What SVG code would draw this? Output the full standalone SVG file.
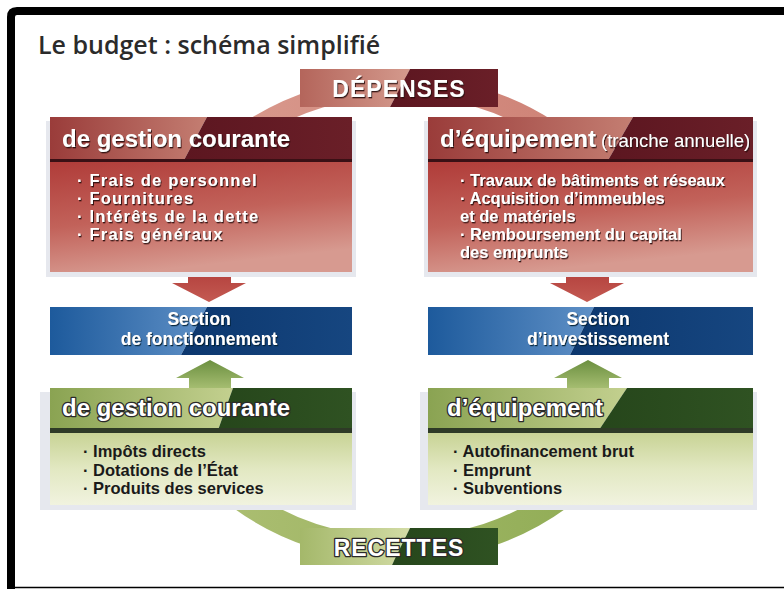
<svg xmlns="http://www.w3.org/2000/svg" width="784" height="589" viewBox="0 0 784 589">
<defs>
<linearGradient id="redLight" x1="0" y1="0" x2="1" y2="0"><stop offset="0" stop-color="#9a3c3a"/><stop offset="1" stop-color="#c47e72"/></linearGradient>
<linearGradient id="redDark" x1="0" y1="0" x2="1" y2="0"><stop offset="0" stop-color="#5c1620"/><stop offset="1" stop-color="#6a1f28"/></linearGradient>
<linearGradient id="redBody" x1="0" y1="0" x2="0.3" y2="1"><stop offset="0" stop-color="#b03c39"/><stop offset="0.55" stop-color="#c2625a"/><stop offset="1" stop-color="#d79a90"/></linearGradient>
<linearGradient id="depLight" x1="0" y1="0" x2="1" y2="0"><stop offset="0" stop-color="#b4655b"/><stop offset="1" stop-color="#d49a8d"/></linearGradient>
<linearGradient id="blueLight" x1="0" y1="0" x2="1" y2="0"><stop offset="0" stop-color="#1d5a9c"/><stop offset="1" stop-color="#5f90c6"/></linearGradient>
<linearGradient id="blueDark" x1="0" y1="0" x2="1" y2="0"><stop offset="0" stop-color="#0c376e"/><stop offset="1" stop-color="#164680"/></linearGradient>
<linearGradient id="greenLight" x1="0" y1="0" x2="1" y2="0"><stop offset="0" stop-color="#8aa352"/><stop offset="1" stop-color="#c3d08f"/></linearGradient>
<linearGradient id="greenDark" x1="0" y1="0" x2="1" y2="0"><stop offset="0" stop-color="#26461b"/><stop offset="1" stop-color="#2f5222"/></linearGradient>
<linearGradient id="greenBody" x1="0" y1="0" x2="0" y2="1"><stop offset="0" stop-color="#c8d395"/><stop offset="0.5" stop-color="#e2e8c2"/><stop offset="1" stop-color="#f1f3df"/></linearGradient>
<linearGradient id="recLight" x1="0" y1="0" x2="1" y2="0"><stop offset="0" stop-color="#a4b86a"/><stop offset="1" stop-color="#d3dca6"/></linearGradient>
<linearGradient id="arrowRed" x1="0" y1="0" x2="0" y2="1"><stop offset="0" stop-color="#b3403c"/><stop offset="1" stop-color="#c45a52"/></linearGradient>
<linearGradient id="arrowGreen" x1="0" y1="0" x2="0" y2="1"><stop offset="0" stop-color="#6b8f40"/><stop offset="1" stop-color="#a9c074"/></linearGradient>
<linearGradient id="arcPink" x1="0" y1="0" x2="1" y2="0"><stop offset="0" stop-color="#d8978b"/><stop offset="1" stop-color="#cf8478"/></linearGradient>
<linearGradient id="arcGreen" x1="0" y1="0" x2="1" y2="0"><stop offset="0" stop-color="#aabd70"/><stop offset="1" stop-color="#93ae58"/></linearGradient>
<filter id="sh" x="-5%" y="-30%" width="110%" height="160%"><feDropShadow dx="1" dy="1.3" stdDeviation="0.5" flood-color="#2a0808" flood-opacity="0.9"/></filter>
<filter id="shb" x="-5%" y="-30%" width="110%" height="160%"><feDropShadow dx="1" dy="1.2" stdDeviation="0.5" flood-color="#061a33" flood-opacity="0.9"/></filter>
</defs>
<style>
.title{font-family:"Open Sans","Liberation Sans",sans-serif;font-weight:600;font-size:25px;fill:#2b2b2b}
.big{font-family:"Liberation Sans",Arial,sans-serif;font-weight:700;font-size:23px;fill:#fff;letter-spacing:1px}
.hd{font-family:"Liberation Sans",Arial,sans-serif;font-weight:700;font-size:24px;fill:#fff}
.hdn{font-family:"Liberation Sans",Arial,sans-serif;font-weight:400;font-size:18.5px;fill:#fff}
.bw{font-family:"Liberation Sans",Arial,sans-serif;font-weight:700;font-size:16.5px;fill:#fff}
.bwl{font-size:16.5px;letter-spacing:1.2px}
.bk{font-family:"Liberation Sans",Arial,sans-serif;font-weight:700;font-size:16.5px;fill:#1a1a1a}
.sec{font-family:"Liberation Sans",Arial,sans-serif;font-weight:700;font-size:17.5px;fill:#fff}
.outl{stroke:#2a2a2a;stroke-width:2.6px;paint-order:stroke;stroke-linejoin:round}
.shadow{fill:#e6e8ee}
.hline{fill:#3a1015}
.gline{fill:#2e3a26}
</style>
<rect width="784" height="589" fill="#ffffff"/>
<path d="M11 589 V17 Q11 11 17 11 H790" fill="none" stroke="#000" stroke-width="8"/>
<line x1="15" y1="587.5" x2="784" y2="587.5" stroke="#000" stroke-width="1.5"/>
<g id="title"><text class="title" x="38" y="54">Le budget : schéma simplifié</text></g>
<g id="connectors">
<path d="M251 130 A255 232 0 0 1 549 130" fill="none" stroke="url(#arcPink)" stroke-width="20"/>
<path d="M240 498 A255 232 0 0 0 560 498" fill="none" stroke="url(#arcGreen)" stroke-width="24"/>
<polygon points="188,270 231,270 231,283 246,283 209,302 172,283 188,283" fill="url(#arrowRed)"/>
<polygon points="566,270 609,270 609,283 624,283 587,302 550,283 566,283" fill="url(#arrowRed)"/>
<polygon points="189,390 231,390 231,378 244,378 210,360 176,378 189,378" fill="url(#arrowGreen)"/>
<polygon points="567,390 609,390 609,378 622,378 588,360 554,378 567,378" fill="url(#arrowGreen)"/>
</g>
<g id="depenses">
<polygon points="300,69 410,69 390,107 300,107" fill="url(#depLight)"/>
<polygon points="410,69 498,69 498,107 390,107" fill="url(#redDark)"/>
<text class="big" x="399" y="97" text-anchor="middle" filter="url(#sh)">DÉPENSES</text>
</g>
<g id="dep-gestion">
<rect class="shadow" x="46" y="121" width="310" height="156"/>
<rect x="50" y="162" width="302" height="110" fill="url(#redBody)"/>
<polygon points="50,117 207,117 183,162 50,162" fill="url(#redLight)"/>
<polygon points="207,117 352,117 352,162 183,162" fill="url(#redDark)"/>
<rect class="hline" x="50" y="159" width="302" height="3"/>
<text class="hd" x="62" y="147" filter="url(#sh)">de gestion courante</text>
<g filter="url(#sh)">
<text class="bw bwl" x="77" y="186">· Frais de personnel</text>
<text class="bw bwl" x="77" y="204">· Fournitures</text>
<text class="bw bwl" x="77" y="222">· Intérêts de la dette</text>
<text class="bw bwl" x="77" y="240">· Frais généraux</text>
</g>
</g>
<g id="dep-equipement">
<rect class="shadow" x="424" y="121" width="333" height="156"/>
<rect x="428" y="162" width="325" height="110" fill="url(#redBody)"/>
<polygon points="428,117 633,117 607,162 428,162" fill="url(#redLight)"/>
<polygon points="633,117 753,117 753,162 607,162" fill="url(#redDark)"/>
<rect class="hline" x="428" y="159" width="325" height="3"/>
<text x="440" y="147" filter="url(#sh)"><tspan class="hd" font-size="23.5">d’équipement</tspan><tspan class="hdn" dx="5">(tranche annuelle)</tspan></text>
<g filter="url(#sh)">
<text class="bw" x="460" y="186">· Travaux de bâtiments et réseaux</text>
<text class="bw" x="460" y="204">· Acquisition d’immeubles</text>
<text class="bw" x="460" y="222">et de matériels</text>
<text class="bw" x="460" y="240">· Remboursement du capital</text>
<text class="bw" x="460" y="258">des emprunts</text>
</g>
</g>
<g id="sec-fonct">
<polygon points="50,307 207,307 181,355 50,355" fill="url(#blueLight)"/>
<polygon points="207,307 352,307 352,355 181,355" fill="url(#blueDark)"/>
<g filter="url(#shb)">
<text class="sec" x="199" y="325" text-anchor="middle">Section</text>
<text class="sec" x="199" y="345" text-anchor="middle">de fonctionnement</text>
</g>
</g>
<g id="sec-invest">
<polygon points="428,307 594,307 570,355 428,355" fill="url(#blueLight)"/>
<polygon points="594,307 753,307 753,355 570,355" fill="url(#blueDark)"/>
<g filter="url(#shb)">
<text class="sec" x="598" y="325" text-anchor="middle">Section</text>
<text class="sec" x="598" y="345" text-anchor="middle">d’investissement</text>
</g>
</g>
<g id="rec-gestion">
<rect class="shadow" x="40" y="392" width="316" height="118"/>
<rect x="50" y="433" width="302" height="72" fill="url(#greenBody)"/>
<polygon points="50,388 233,388 217,433 50,433" fill="url(#greenLight)"/>
<polygon points="233,388 352,388 352,433 217,433" fill="url(#greenDark)"/>
<rect class="gline" x="50" y="428" width="302" height="5"/>
<text class="hd outl" x="62" y="416" font-size="23.5">de gestion courante</text>
<text class="bk" x="83" y="457">· Impôts directs</text>
<text class="bk" x="83" y="476">· Dotations de l’État</text>
<text class="bk" x="83" y="494">· Produits des services</text>
</g>
<g id="rec-equipement">
<rect class="shadow" x="420" y="392" width="337" height="118"/>
<rect x="428" y="433" width="325" height="72" fill="url(#greenBody)"/>
<polygon points="428,388 627,388 597,433 428,433" fill="url(#greenLight)"/>
<polygon points="627,388 753,388 753,433 597,433" fill="url(#greenDark)"/>
<rect class="gline" x="428" y="428" width="325" height="5"/>
<text class="hd outl" x="447" y="416" font-size="23.5">d’équipement</text>
<text class="bk" x="453" y="457">· Autofinancement brut</text>
<text class="bk" x="453" y="476">· Emprunt</text>
<text class="bk" x="453" y="494">· Subventions</text>
</g>
<g id="recettes">
<polygon points="300,528 410,528 392,565 300,565" fill="url(#recLight)"/>
<polygon points="410,528 498,528 498,565 392,565" fill="url(#greenDark)"/>
<text class="big outl" x="399" y="556" text-anchor="middle">RECETTES</text>
</g>
</svg>
